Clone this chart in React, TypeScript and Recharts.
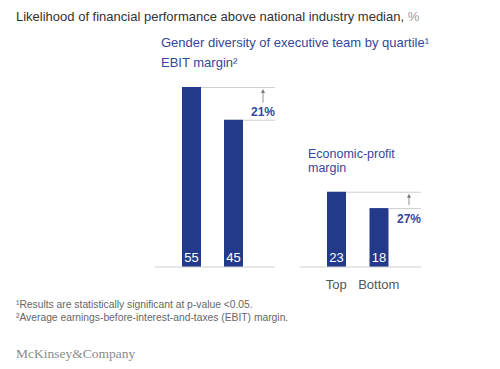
import { BarChart, Bar, XAxis, YAxis, LabelList } from 'recharts'

// Two small panels (EBIT margin / economic-profit margin) on one shared scale.
const categories = ['Top', 'Bottom']
const ebitValues = [55, 45]
const economicValues = [23, 18]
const ebitUplift = '21%'
const economicUplift = '27%'
const Y_MAX = 55

const BAR = '#233a8b'
const TEXT_BLUE = '#34479a'
const GRID = '#cfcfcf'
const FONT = '"Liberation Sans", Arial, Helvetica, sans-serif'

const toRows = (values: number[]) => categories.map((name, i) => ({ name, value: values[i] }))

type ShapeOpts = { plotRight: number; uplift: string; labelBelow: boolean }

// bar + guide line to the right edge; the last bar also gets the arrow and the uplift label.
const makeBarShape = (o: ShapeOpts, top: number) => (p: any) => {
  const { x, y, width, height, payload, index } = p
  const base = y + height
  const topY = base - (height * top) / payload.value
  const ax = o.plotRight - 12
  const arrowEnd = o.labelBelow ? y - 3 : y - 17
  return (
    <g>
      <rect x={x} y={y} width={width} height={height} fill={BAR} />
      <line x1={x + width} x2={o.plotRight} y1={y + 0.5} y2={y + 0.5} stroke={GRID} />
      {index === categories.length - 1 && (
        <g>
          <line x1={ax} x2={ax} y1={topY + 5} y2={arrowEnd} stroke="#777" strokeWidth={0.8} />
          <polygon points={`${ax},${topY + 2} ${ax - 2},${topY + 6} ${ax + 2},${topY + 6}`} fill="#777" />
          <text
            x={o.plotRight}
            y={o.labelBelow ? y + 15 : y - 4}
            textAnchor="end"
            fontSize={12}
            fontWeight="bold"
            fill={TEXT_BLUE}
            fontFamily={FONT}
          >
            {o.uplift}
          </text>
        </g>
      )}
    </g>
  )
}

const Panel = ({
  values,
  uplift,
  left,
  height,
  marginLeft,
  marginRight,
  plotWidth,
  showTicks,
  labelBelow,
}: {
  values: number[]
  uplift: string
  left: number
  height: number
  marginLeft: number
  marginRight: number
  plotWidth: number
  showTicks: boolean
  labelBelow: boolean
}) => {
  const width = marginLeft + plotWidth + marginRight
  const shape = makeBarShape({ plotRight: marginLeft + plotWidth, uplift, labelBelow }, values[0])
  return (
    <div style={{ position: 'absolute', left, top: 70 }}>
      <BarChart
        width={width}
        height={height}
        data={toRows(values)}
        margin={{ top: 17, right: marginRight, left: marginLeft, bottom: 0 }}
      >
        <YAxis hide domain={[0, Y_MAX]} />
        <XAxis
          dataKey="name"
          height={height - 17 - 180}
          axisLine={{ stroke: GRID }}
          tickLine={false}
          tick={showTicks ? { fontSize: 13, fill: '#555', fontFamily: FONT } : false}
          tickMargin={7}
          padding={{ left: 15, right: 21 }}
        />
        <Bar dataKey="value" barSize={19} shape={shape} isAnimationActive={false}>
          <LabelList dataKey="value" position="insideBottom" fill="#fff" fontSize={13} fontFamily={FONT} />
        </Bar>
      </BarChart>
    </div>
  )
}

const abs = (top: number, left: number, extra: React.CSSProperties = {}): React.CSSProperties => ({
  position: 'absolute',
  top,
  left,
  whiteSpace: 'nowrap',
  ...extra,
})

export default function App() {
  return (
    <div
      style={{
        position: 'absolute',
        left: 0,
        top: 0,
        width: 500,
        height: 369,
        background: '#fff',
        fontFamily: FONT,
        overflow: 'hidden',
      }}
    >
      <div style={abs(9, 16, { fontSize: 13, lineHeight: '16px', color: '#333' })}>
        Likelihood of financial performance above national industry median, <span style={{ color: '#9a9a9a' }}>%</span>
      </div>
      <div style={abs(35, 161, { fontSize: 13, lineHeight: '16px', color: TEXT_BLUE })}>
        Gender diversity of executive team by quartile¹
      </div>
      <div style={abs(55, 161, { fontSize: 13, lineHeight: '16px', color: TEXT_BLUE })}>EBIT margin²</div>
      <div style={abs(147, 308, { fontSize: 12.5, lineHeight: '14px', color: TEXT_BLUE })}>
        Economic-profit
        <br />
        margin
      </div>

      <Panel
        values={ebitValues}
        uplift={ebitUplift}
        left={140}
        height={220}
        marginLeft={15}
        marginRight={15}
        plotWidth={120}
        showTicks={false}
        labelBelow={false}
      />
      <Panel
        values={economicValues}
        uplift={economicUplift}
        left={290}
        height={230}
        marginLeft={10}
        marginRight={19}
        plotWidth={121}
        showTicks
        labelBelow
      />

      <div style={abs(299, 16, { fontSize: 10.3, lineHeight: '12.5px', color: '#666' })}>
        ¹Results are statistically significant at p-value &lt;0.05.
        <br />
        ²Average earnings-before-interest-and-taxes (EBIT) margin.
      </div>
      <div
        style={abs(345, 16, {
          fontSize: 13.5,
          lineHeight: '18px',
          color: '#8a8a8a',
          fontFamily: '"Liberation Serif", "DejaVu Serif", serif',
        })}
      >
        McKinsey&amp;Company
      </div>
    </div>
  )
}
